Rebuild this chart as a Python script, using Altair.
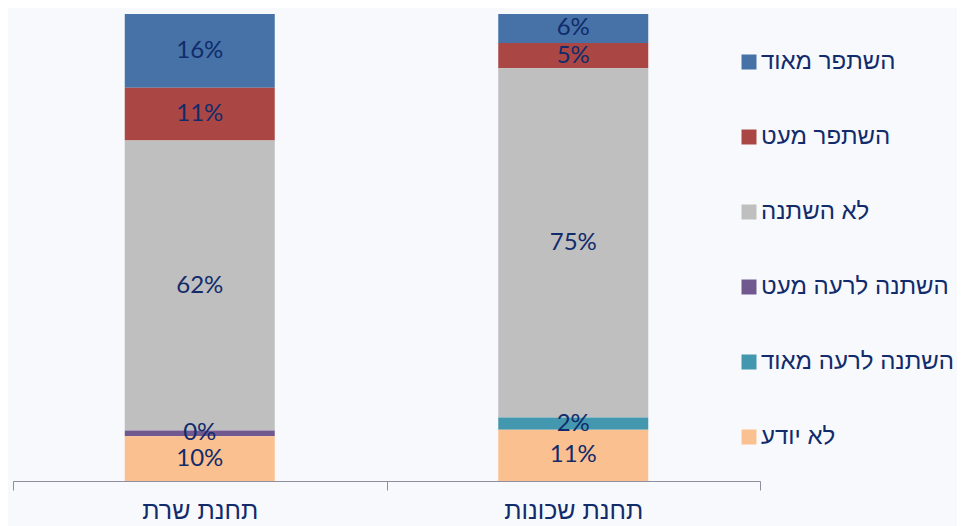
import altair as alt
import pandas as pd

categories = ["תחנת שרת", "תחנת שכונות"]
series = ["השתפר מאוד", "השתפר מעט", "לא השתנה", "השתנה לרעה מעט", "השתנה לרעה מאוד", "לא יודע"]
colors = ["#4672A8", "#AA4744", "#BFBFBF", "#71588F", "#4398AF", "#FAC090"]
stack_order = [5, 4, 3, 2, 1, 0]

values_sharet = [15.8, 11.3, 62.1, 1.2, 0.0, 9.6]
labels_sharet = ["16%", "11%", "62%", "0%", "", "10%"]
values_shchunot = [6.2, 5.4, 74.8, 0.0, 2.6, 11.0]
labels_shchunot = ["6%", "5%", "75%", "", "2%", "11%"]

rows = []
for cat, vals, labs in [(categories[0], values_sharet, labels_sharet),
                        (categories[1], values_shchunot, labels_shchunot)]:
    for s, v, l, o in zip(series, vals, labs, stack_order):
        rows.append({"category": cat, "series": s, "value": v, "label": l, "order": o})
df = pd.DataFrame(rows)

NAVY = "#112B6B"
HEB = "Liberation Sans, DejaVu Sans, sans-serif"

base = alt.Chart(df).transform_stack(
    stack="value", groupby=["category"], as_=["v0", "v1"],
    sort=[alt.SortField("order", order="ascending")]
).transform_calculate(mid="(datum.v0 + datum.v1) / 2")

x_enc = alt.X("category:N", sort=categories, title=None,
              scale=alt.Scale(paddingInner=0, paddingOuter=0),
              axis=alt.Axis(labelAngle=0, labelFontSize=25, labelColor=NAVY, labelFont=HEB,
                            domainColor="#8E8E9E", tickColor="#8E8E9E", tickSize=9,
                            tickBand="extent", labelPadding=8, grid=False))
y_scale = alt.Scale(domain=[0, 100], nice=False, zero=True)

bars = base.mark_bar(size=150, stroke=None).encode(
    x=x_enc,
    y=alt.Y("v0:Q", scale=y_scale, axis=None),
    y2="v1:Q",
    color=alt.Color("series:N", scale=alt.Scale(domain=series, range=colors),
                    legend=alt.Legend(title=None, orient="none", legendX=724, legendY=36,
                                      symbolType="square", symbolSize=225, symbolStrokeWidth=0,
                                      labelFontSize=24, labelColor=NAVY, labelFont=HEB,
                                      labelOffset=0, rowPadding=51, padding=0,
                                      labelLimit=300)),
)

texts = base.transform_filter("datum.label != ''").mark_text(
    font="Lato", fontSize=24, color=NAVY, baseline="middle", align="center"
).encode(
    x=alt.X("category:N", sort=categories),
    y=alt.Y("mid:Q", scale=y_scale),
    text="label:N",
)

chart = alt.layer(bars, texts).properties(
    width=747, height=467,
    autosize=alt.AutoSizeParams(type="none"),
    padding={"left": 5, "top": 6, "right": 197, "bottom": 45},
    background="#F8F9FD",
).configure_view(stroke=None)

chart.save("out.html", embed_options={"renderer": "svg", "actions": False})
